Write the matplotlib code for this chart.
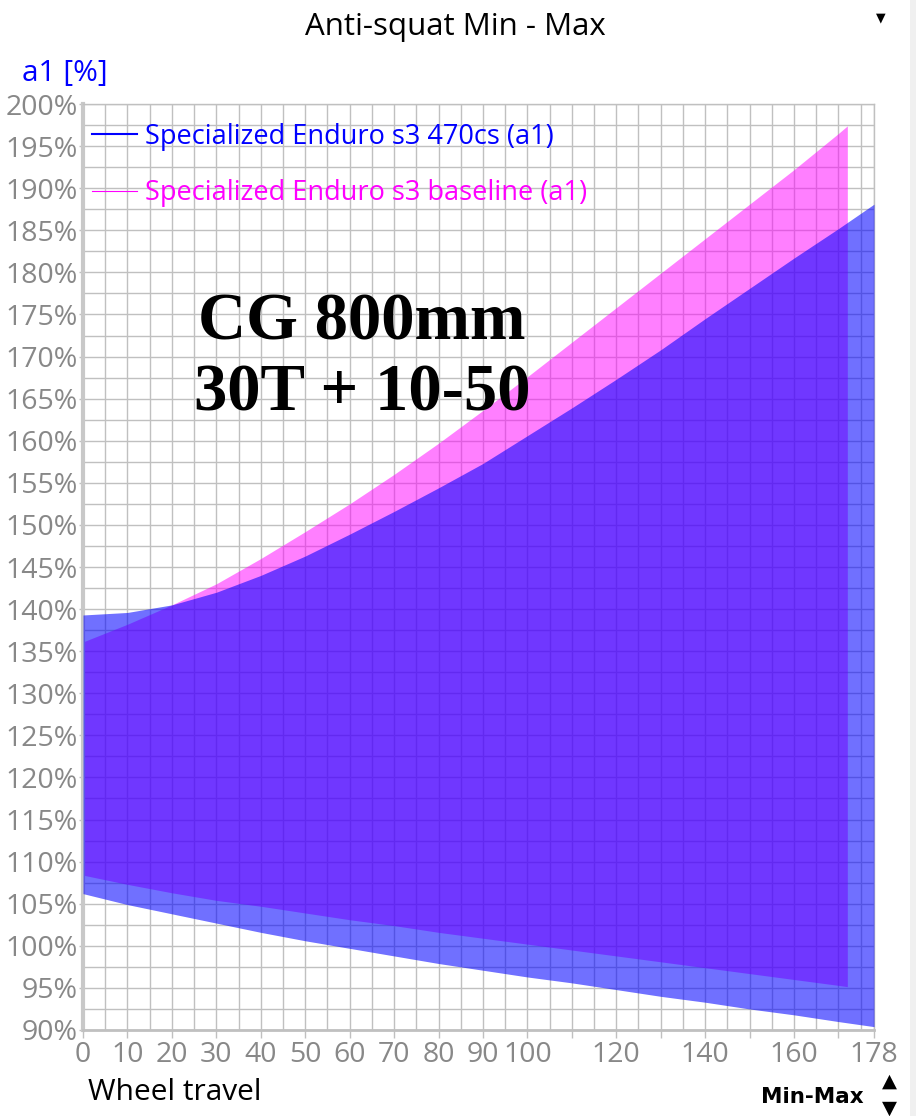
import matplotlib.pyplot as plt
from matplotlib.lines import Line2D
from matplotlib.ticker import MultipleLocator, FixedLocator

# wheel travel (mm)
travel_470 = [0, 10, 20, 30, 40, 50, 60, 70, 80, 90, 100, 110, 120, 130, 140, 150, 160, 170, 178]
a1_470_max = [139.3, 139.6, 140.5, 142.0, 144.0, 146.3, 148.9, 151.6, 154.4, 157.3, 160.6,
              163.9, 167.3, 170.8, 174.5, 178.1, 181.7, 185.2, 188.1]
a1_470_min = [106.2, 104.9, 103.8, 102.7, 101.6, 100.6, 99.7, 98.8, 97.9, 97.1, 96.3,
              95.6, 94.8, 94.0, 93.3, 92.5, 91.8, 91.0, 90.4]

travel_base = [0, 10, 20, 30, 40, 50, 60, 70, 80, 90, 100, 110, 120, 130, 140, 150, 160, 170, 172]
a1_base_max = [136.1, 138.2, 140.5, 143.0, 146.0, 149.2, 152.5, 156.0, 159.7, 163.6, 167.6,
               171.7, 175.8, 179.9, 184.0, 188.1, 192.2, 196.5, 197.4]
a1_base_min = [108.4, 107.3, 106.3, 105.4, 104.7, 103.9, 103.1, 102.4, 101.6, 100.9, 100.2,
               99.5, 98.8, 98.1, 97.4, 96.7, 96.0, 95.3, 95.15]

labels = ["Specialized Enduro s3 470cs (a1)", "Specialized Enduro s3 baseline (a1)"]
xtick_labels = [0, 10, 20, 30, 40, 50, 60, 70, 80, 90, 100, 120, 140, 160, 178]
yticks = list(range(90, 201, 5))

plt.rcParams['font.family'] = ['Open Sans', 'DejaVu Sans']

fig = plt.figure(figsize=(9.16, 11.16), dpi=100)
ax = fig.add_axes([83 / 916, 1 - 1030 / 1116, 791 / 916, 926 / 1116])

ax.fill_between(travel_base, a1_base_min, a1_base_max, color='#FF00FF', alpha=0.5, lw=0, zorder=2)
ax.fill_between(travel_470, a1_470_min, a1_470_max, color='#0000FF', alpha=0.56, lw=0, zorder=3)

ax.set_xlim(0, 178)
ax.set_ylim(90, 200)
ax.xaxis.set_minor_locator(MultipleLocator(5))
ax.yaxis.set_minor_locator(MultipleLocator(2.5))
ax.grid(True, which='both', color='#C0C0C0', lw=1)
ax.set_axisbelow(True)

xmajor = list(range(0, 171, 10)) + [178]
ax.xaxis.set_major_locator(FixedLocator(xmajor))
ax.set_xticklabels([str(v) if v in xtick_labels else '' for v in xmajor])
ax.set_yticks(yticks)
ax.set_yticklabels([f'{v}%' for v in yticks])
ax.tick_params(axis='both', which='major', colors='#C0C0C0', labelcolor='#888888', labelsize=20.5,
               length=6, width=1)
ax.tick_params(axis='y', which='major', length=3, pad=1)
ax.tick_params(axis='x', which='major', pad=2)
ax.tick_params(which='minor', length=0)

for side in ['top', 'right']:
    ax.spines[side].set_color('#C0C0C0')
    ax.spines[side].set_linewidth(1)
ax.spines['left'].set_color('#C8C8C8')
ax.spines['left'].set_linewidth(3)
ax.spines['bottom'].set_color('#C0C0C0')
ax.spines['bottom'].set_linewidth(2)

handles = [Line2D([], [], color='#0000FF', lw=1.5), Line2D([], [], color='#FF00FF', lw=0.8)]
leg = ax.legend(handles, labels, loc='upper left', bbox_to_anchor=(-0.019, 1.006), frameon=False,
                fontsize=19.5, labelcolor=['#0000FF', '#FF00FF'], handlelength=1.65,
                handletextpad=0.3, labelspacing=1.05)

ax.text(0.353, 0.7253, 'CG 800mm\n30T + 10-50', transform=ax.transAxes, ha='center', va='center',
        fontsize=48, fontweight='bold', family='Liberation Serif', linespacing=1.2)

fig.text(455 / 916, 1 - 27 / 1116, 'Anti-squat Min - Max', ha='center', va='center', fontsize=22.5)
fig.text(22 / 916, 1 - 74 / 1116, 'a1 [%]', ha='left', va='center', fontsize=21.5, color='#0000FF')
fig.text(88 / 916, 1 - 1093 / 1116, 'Wheel travel', ha='left', va='center', fontsize=21.5)
fig.text(864 / 916, 1 - 1097 / 1116, 'Min-Max', ha='right', va='center', fontsize=15.5,
         fontweight='bold', family='DejaVu Sans')
fig.text(889 / 916, 1 - 1081 / 1116, '▲', ha='center', va='center', fontsize=14, family='DejaVu Sans')
fig.text(889 / 916, 1 - 1108 / 1116, '▼', ha='center', va='center', fontsize=14, family='DejaVu Sans')
fig.text(881 / 916, 1 - 18 / 1116, '▼', ha='center', va='center', fontsize=9, family='DejaVu Sans')
fig.patches.append(plt.Rectangle((910 / 916, 0), 6 / 916, 1, transform=fig.transFigure,
                                 color='#F0F0F0', lw=0))

fig.savefig('out.png', dpi=100)
